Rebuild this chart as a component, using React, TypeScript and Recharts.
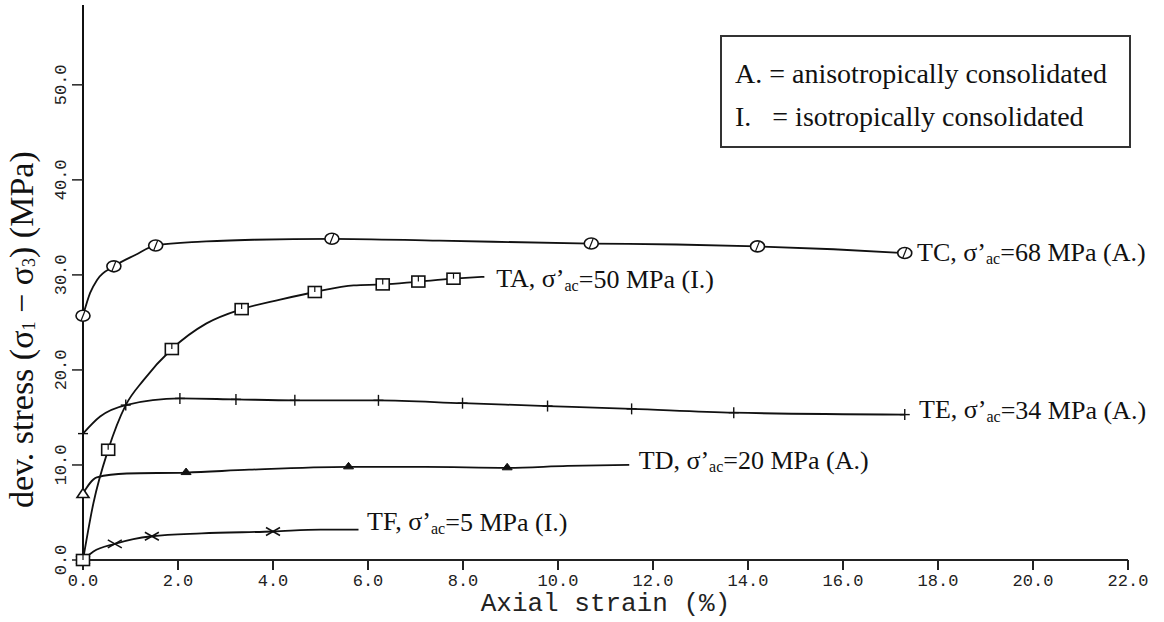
import { ComposedChart, Line, Scatter, XAxis, YAxis, Label } from "recharts";

const xTicks = [0, 2, 4, 6, 8, 10, 12, 14, 16, 18, 20, 22];
const yTicks = [0, 10, 20, 30, 40, 50];

// TC, anisotropic, 68 MPa
const tcCurve = [
  { x: 0, y: 25.7 }, { x: 0.15, y: 28.1 }, { x: 0.3, y: 29.5 }, { x: 0.65, y: 30.9 },
  { x: 1.1, y: 32.1 }, { x: 1.53, y: 33.1 }, { x: 2.5, y: 33.5 }, { x: 3.6, y: 33.7 },
  { x: 5.24, y: 33.8 }, { x: 7.5, y: 33.6 }, { x: 10.7, y: 33.3 }, { x: 12.5, y: 33.2 },
  { x: 14.2, y: 33.0 }, { x: 15.8, y: 32.7 }, { x: 17.3, y: 32.3 },
];
const tcMarks = [
  { x: 0, y: 25.7 }, { x: 0.65, y: 30.9 }, { x: 1.53, y: 33.1 }, { x: 5.24, y: 33.8 },
  { x: 10.7, y: 33.3 }, { x: 14.2, y: 33.0 }, { x: 17.3, y: 32.3 },
];

// TA, isotropic, 50 MPa
const taCurve = [
  { x: 0, y: 0 }, { x: 0.22, y: 6.0 }, { x: 0.53, y: 11.6 }, { x: 0.9, y: 16.3 },
  { x: 1.27, y: 18.9 }, { x: 1.87, y: 22.2 }, { x: 2.6, y: 24.9 }, { x: 3.34, y: 26.4 },
  { x: 4.15, y: 27.4 }, { x: 4.88, y: 28.2 }, { x: 5.7, y: 28.9 }, { x: 6.31, y: 29.0 },
  { x: 7.06, y: 29.3 }, { x: 7.8, y: 29.6 }, { x: 8.45, y: 29.8 },
];
const taMarks = [
  { x: 0, y: 0 }, { x: 0.53, y: 11.6 }, { x: 1.87, y: 22.2 }, { x: 3.34, y: 26.4 },
  { x: 4.88, y: 28.2 }, { x: 6.31, y: 29.0 }, { x: 7.06, y: 29.3 }, { x: 7.8, y: 29.6 },
];

// TE, anisotropic, 34 MPa
const teCurve = [
  { x: 0, y: 13.3 }, { x: 0.36, y: 15.1 }, { x: 0.9, y: 16.3 }, { x: 2.04, y: 17.0 },
  { x: 3.22, y: 16.9 }, { x: 4.46, y: 16.8 }, { x: 6.22, y: 16.8 }, { x: 7.99, y: 16.5 },
  { x: 9.78, y: 16.2 }, { x: 11.55, y: 15.9 }, { x: 13.7, y: 15.5 }, { x: 17.3, y: 15.3 },
];
const teMarks = [
  { x: 0, y: 13.3 }, { x: 0.9, y: 16.3 }, { x: 2.04, y: 17.0 }, { x: 3.22, y: 16.9 },
  { x: 4.46, y: 16.8 }, { x: 6.22, y: 16.8 }, { x: 7.99, y: 16.5 }, { x: 9.78, y: 16.2 },
  { x: 11.55, y: 15.9 }, { x: 13.7, y: 15.5 }, { x: 17.3, y: 15.3 },
];

// TD, anisotropic, 20 MPa
const tdCurve = [
  { x: 0, y: 7.0 }, { x: 0.29, y: 8.7 }, { x: 0.92, y: 9.1 }, { x: 2.17, y: 9.2 },
  { x: 3.5, y: 9.5 }, { x: 5.59, y: 9.8 }, { x: 7.2, y: 9.8 }, { x: 8.93, y: 9.7 },
  { x: 10.2, y: 9.9 }, { x: 11.5, y: 10.0 },
];
const tdStart = [{ x: 0, y: 7.0 }];
const tdMarks = [{ x: 2.17, y: 9.2 }, { x: 5.59, y: 9.8 }, { x: 8.93, y: 9.7 }];

// TF, isotropic, 5 MPa
const tfCurve = [
  { x: 0, y: 0 }, { x: 0.22, y: 0.9 }, { x: 0.67, y: 1.7 }, { x: 1.06, y: 2.2 },
  { x: 1.45, y: 2.5 }, { x: 2.5, y: 2.8 }, { x: 4.0, y: 3.0 }, { x: 5.0, y: 3.2 },
  { x: 5.8, y: 3.2 },
];
const tfMarks = [
  { x: 0, y: 0 }, { x: 0.67, y: 1.7 }, { x: 1.45, y: 2.5 }, { x: 4.0, y: 3.0 },
];

const curveLabels = [
  { x: 17.56, y: 32.4, name: "TC", stress: "68", mode: "A." },
  { x: 8.7, y: 29.6, name: "TA", stress: "50", mode: "I." },
  { x: 17.6, y: 15.8, name: "TE", stress: "34", mode: "A." },
  { x: 11.7, y: 10.5, name: "TD", stress: "20", mode: "A." },
  { x: 5.98, y: 4.0, name: "TF", stress: "5", mode: "I." },
];

const serif = '"Liberation Serif", "Times New Roman", serif';
const mono = '"Liberation Mono", "Courier New", monospace';
const ink = "#111";

const CircleMark = ({ cx, cy }: any) => (
  <g>
    <ellipse cx={cx} cy={cy} rx={7} ry={5.5} fill="#fff" stroke={ink} strokeWidth={1.6} />
    <line x1={cx - 2} y1={cy + 5} x2={cx + 2} y2={cy - 5} stroke={ink} strokeWidth={1.2} />
  </g>
);

const SquareMark = ({ cx, cy }: any) => (
  <g>
    <rect x={cx - 6.5} y={cy - 5.5} width={13} height={11} fill="#fff" stroke={ink} strokeWidth={1.6} />
    <line x1={cx} y1={cy - 5.5} x2={cx} y2={cy} stroke={ink} strokeWidth={1.2} />
  </g>
);

const PlusMark = ({ cx, cy }: any) => (
  <g stroke={ink} strokeWidth={1.4}>
    <line x1={cx} y1={cy - 5.5} x2={cx} y2={cy + 5.5} />
    <line x1={cx - 5} y1={cy} x2={cx + 5} y2={cy} />
  </g>
);

const OpenTriangle = ({ cx, cy }: any) => (
  <polygon
    points={`${cx - 6},${cy + 4} ${cx + 6},${cy + 4} ${cx},${cy - 5}`}
    fill="#fff"
    stroke={ink}
    strokeWidth={1.6}
  />
);

const SmallTriangle = ({ cx, cy }: any) => (
  <polygon
    points={`${cx - 5},${cy + 2} ${cx + 5},${cy + 2} ${cx},${cy - 4.5}`}
    fill={ink}
    stroke={ink}
    strokeWidth={1}
  />
);

const CrossMark = ({ cx, cy }: any) => (
  <g stroke={ink} strokeWidth={1.5}>
    <line x1={cx - 7} y1={cy - 4} x2={cx + 7} y2={cy + 4} />
    <line x1={cx - 7} y1={cy + 4} x2={cx + 7} y2={cy - 4} />
  </g>
);

const CurveLabel = ({ cx, cy, payload }: any) => (
  <text x={cx} y={cy} dominantBaseline="central" fontFamily={serif} fontSize={26} fill={ink}>
    {payload.name}, σ’
    <tspan fontSize={16} dy={6}>ac</tspan>
    <tspan dy={-6}>={payload.stress} MPa ({payload.mode})</tspan>
  </text>
);

const XTick = ({ x, y, payload }: any) => (
  <text x={x} y={y} dy="0.71em" textAnchor="middle" fontFamily={mono} fontSize={17} fill="#222">
    {Number(payload.value).toFixed(1)}
  </text>
);

const YTick = ({ x, y, payload }: any) => (
  <text
    transform={`translate(${x},${y}) rotate(-90)`}
    textAnchor="middle"
    dominantBaseline="central"
    fontFamily={mono}
    fontSize={17}
    fill="#222"
  >
    {Number(payload.value).toFixed(1)}
  </text>
);

const XTitle = ({ viewBox }: any) => (
  <text
    x={viewBox.x + viewBox.width / 2}
    y={viewBox.y + 51}
    textAnchor="middle"
    fontFamily={mono}
    fontSize={26}
    fill="#222"
  >
    Axial strain (%)
  </text>
);

const YTitle = ({ viewBox }: any) => {
  const cx = viewBox.x + 21;
  const cy = viewBox.y + viewBox.height * 0.585;
  return (
    <text
      transform={`translate(${cx},${cy}) rotate(-90)`}
      textAnchor="middle"
      dominantBaseline="central"
      fontFamily={serif}
      fontSize={34}
      fill={ink}
    >
      dev. stress (σ<tspan fontSize={18} dy={8}>1</tspan>
      <tspan dy={-8}> − σ</tspan>
      <tspan fontSize={18} dy={8}>3</tspan>
      <tspan dy={-8}>) (MPa)</tspan>
    </text>
  );
};

export default function App() {
  const line = { type: "monotone" as const, dataKey: "y", stroke: ink, strokeWidth: 1.8, dot: false, isAnimationActive: false };
  return (
    <div style={{ position: "absolute", left: 0, top: 0, width: 1164, height: 622, background: "#fff" }}>
      <ComposedChart width={1164} height={622} margin={{ top: 5, right: 36, bottom: 0, left: 0 }}>
        <XAxis
          type="number"
          dataKey="x"
          domain={[0, 22]}
          ticks={xTicks}
          interval={0}
          height={62}
          tickSize={10}
          tickMargin={4}
          tick={<XTick />}
          axisLine={{ stroke: "#222", strokeWidth: 2 }}
          tickLine={{ stroke: "#222", strokeWidth: 2 }}
        >
          <Label content={<XTitle />} />
        </XAxis>
        <YAxis
          type="number"
          dataKey="y"
          domain={[0, 58.4]}
          ticks={yTicks}
          interval={0}
          width={83}
          tickSize={11}
          tickMargin={11}
          tick={<YTick />}
          axisLine={{ stroke: "#111", strokeWidth: 2 }}
          tickLine={{ stroke: "#222", strokeWidth: 1.5 }}
        >
          <Label content={<YTitle />} />
        </YAxis>

        <Line {...line} data={tcCurve} />
        <Line {...line} data={taCurve} />
        <Line {...line} data={teCurve} />
        <Line {...line} data={tdCurve} />
        <Line {...line} data={tfCurve} />

        <Scatter data={tcMarks} shape={<CircleMark />} isAnimationActive={false} />
        <Scatter data={teMarks} shape={<PlusMark />} isAnimationActive={false} />
        <Scatter data={tdStart} shape={<OpenTriangle />} isAnimationActive={false} />
        <Scatter data={tdMarks} shape={<SmallTriangle />} isAnimationActive={false} />
        <Scatter data={tfMarks} shape={<CrossMark />} isAnimationActive={false} />
        <Scatter data={taMarks} shape={<SquareMark />} isAnimationActive={false} />
        <Scatter data={curveLabels} shape={<CurveLabel />} isAnimationActive={false} />
      </ComposedChart>
      <div
        style={{
          position: "absolute",
          left: 720,
          top: 35,
          width: 411,
          height: 113,
          border: "2px solid #333",
          fontFamily: serif,
          fontSize: 28,
          color: ink,
          whiteSpace: "pre",
          lineHeight: "43px",
          padding: "15px 0 0 13px",
          boxSizing: "border-box",
        }}
      >
        <div>A. = anisotropically consolidated</div>
        <div>I.   = isotropically consolidated</div>
      </div>
    </div>
  );
}
